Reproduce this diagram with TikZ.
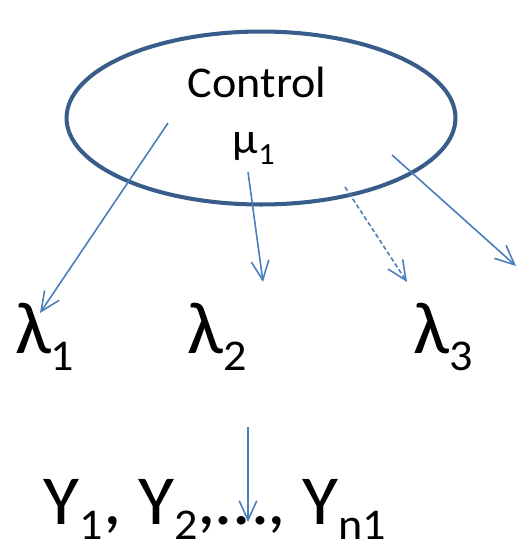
\documentclass[tikz,border=0pt]{standalone}
\usepackage{fontspec}
\setmainfont[FakeStretch=1.05]{Carlito}
\usepackage{xcolor}
\usetikzlibrary{positioning,arrows.meta,shapes.geometric}
\definecolor{ringblue}{HTML}{385D8A}
\definecolor{arrowblue}{HTML}{4A7EBB}
\newcommand{\subsc}[3]{\raisebox{-#1}{\fontsize{#2}{#2}\selectfont #3}}

\begin{document}
\begin{tikzpicture}[
  x=0.02cm, y=-0.02cm,
  every node/.style={inner sep=0pt, outer sep=0pt},
  ctrl/.style={ellipse, draw=ringblue, line width=2.3pt, minimum width=7.78cm, minimum height=3.46cm},
  smalltxt/.style={font=\fontsize{25}{30}\selectfont, anchor=base west},
  bigsym/.style={font=\fontsize{42}{48}\selectfont, anchor=base west},
  obstxt/.style={font=\fontsize{40}{48}\selectfont, anchor=base west},
  arr/.style={-{Straight Barb[length=11pt,width=10pt]}, draw=arrowblue, line width=0.9pt},
  arrdash/.style={arr, dash pattern=on 2.5pt off 1.5pt}
]
\useasboundingbox (0,0) rectangle (518,549);
% Top: control group
\node[smalltxt] (ctrltxt) at (188,97) {Control};
\node[smalltxt] (mu) at (233,153) {μ\subsc{6.5pt}{17.5pt}{1}};
\node[ctrl] (ctrl) at (261,118) {};
% Row 2: rates
\node[bigsym] (lam1) at (15,353) {λ\subsc{10pt}{25pt}{1}};
\node[bigsym] (lam2) at (188,353) {λ\subsc{10pt}{25pt}{2}};
\node[bigsym] (lam3) at (414,353) {λ\subsc{10pt}{25pt}{3}};
% Row 3: observations
\node[obstxt] (obs) at (44,524) {Y\subsc{9pt}{25pt}{1}, Y\subsc{9pt}{25pt}{2},…, Y\subsc{9pt}{25pt}{n1}};
% Arrow ends
\coordinate (s1) at (168,123);
\coordinate (e1) at (40,313);
\coordinate (s2) at (248,172);
\coordinate (e2) at (263,282);
\coordinate (s3) at (345,187);
\coordinate (e3) at (407,282);
\coordinate (s4) at (392,155);
\coordinate (e4) at (516,266);
\coordinate (s5) at (248,427);
\coordinate (e5) at (248,522);
% Arrows
\draw[arr] (s1) -- (e1);
\draw[arr] (s2) -- (e2);
\draw[arrdash] (s3) -- (e3);
\draw[arr] (s4) -- (e4);
\draw[arr] (s5) -- (e5);
\end{tikzpicture}
\end{document}
